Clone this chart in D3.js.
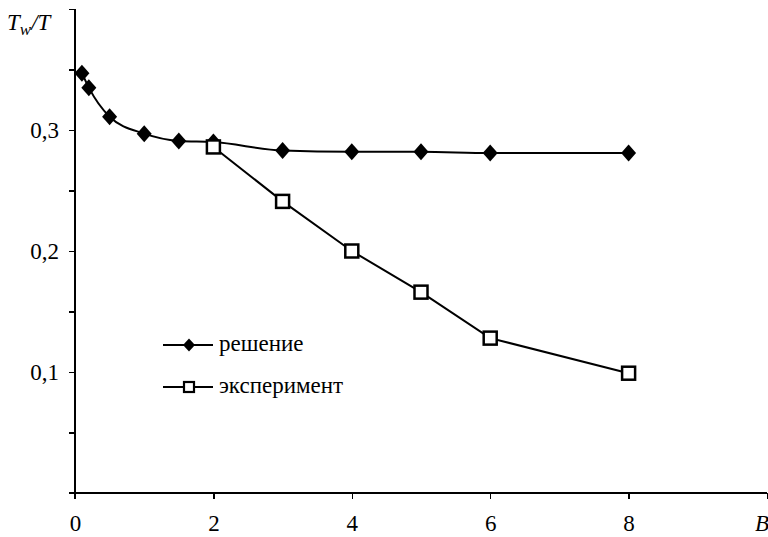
<!DOCTYPE html>
<meta charset="utf-8">
<style>
    body { margin: 0; background: #fff; }
    .curve { fill: none; stroke: #000; stroke-width: 2; }
</style>
<body>
<script src="https://d3js.org/d3.v7.min.js"></script>
<script>
// data
var solB = [0.1, 0.2, 0.5, 1, 1.5, 2, 3, 4, 5, 6, 8];
var solT = [0.347, 0.335, 0.311, 0.297, 0.291, 0.290, 0.283, 0.282, 0.282, 0.281, 0.281];
var expB = [2, 3, 4, 5, 6, 8];
var expT = [0.286, 0.241, 0.200, 0.166, 0.128, 0.099];
var xTicks = [0, 2, 4, 6, 8, 10];
var yTicks = [0, 0.05, 0.1, 0.15, 0.2, 0.25, 0.3, 0.35, 0.4];
var yLabelled = [0.1, 0.2, 0.3];
var names = ["решение", "эксперимент"];

var width = 768, height = 537;
var font = "'Liberation Serif', 'Times New Roman', serif";
var fs = "23px";

var svg = d3.select("body").append("svg")
    .attr("width", width)
    .attr("height", height);

var x = d3.scaleLinear().domain([0, 10]).range([75, 767]);
var y = d3.scaleLinear().domain([0, 0.4]).range([493, 9]);

function styleAxis(g) {
    g.selectAll("path, line").style("stroke", "#000").style("stroke-width", 1.2).style("shape-rendering", "crispEdges");
    g.selectAll("text").style("font-family", font).style("font-size", fs).style("fill", "#000");
}

// axes
svg.append("g")
    .attr("transform", "translate(0," + y(0) + ")")
    .call(d3.axisBottom(x).tickValues(xTicks).tickSize(6).tickSizeOuter(0).tickPadding(16)
        .tickFormat(function (d) { return d === 10 ? "" : d; }))
    .call(function (g) { g.select(".domain").attr("d", "M" + (x(0) - 6) + ",0H" + x(10)); })
    .call(styleAxis);

svg.append("g")
    .attr("transform", "translate(" + x(0) + ",0)")
    .call(d3.axisLeft(y).tickValues(yTicks).tickSize(6).tickSizeOuter(0).tickPadding(10)
        .tickFormat(function (d) {
            return yLabelled.some(function (v) { return Math.abs(v - d) < 1e-9; }) ? d3.format(".1f")(d).replace(".", ",") : "";
        }))
    .call(function (g) { g.select(".domain").attr("d", "M0," + (y(0) + 6) + "V" + y(0.4)); })
    .call(styleAxis);

// axis titles
var yt = svg.append("text")
    .attr("x", 7)
    .attr("y", 30)
    .style("font-family", font)
    .style("font-size", fs)
    .style("font-style", "italic");
yt.append("tspan").text("T");
yt.append("tspan").style("font-size", "17px").attr("dy", 5).text("w");
yt.append("tspan").attr("dy", -5).text("/T");

svg.append("text")
    .attr("x", x(10) - 5)
    .attr("y", 531)
    .attr("text-anchor", "middle")
    .style("font-family", font)
    .style("font-size", fs)
    .style("font-style", "italic")
    .text("B");

var line = d3.line()
    .x(function (d) { return x(d[0]); })
    .y(function (d) { return y(d[1]); });

var sol = d3.zip(solB, solT);
var exp = d3.zip(expB, expT);

svg.append("path").attr("class", "curve").attr("d", line.curve(d3.curveMonotoneX)(sol));
svg.append("path").attr("class", "curve").attr("d", line.curve(d3.curveLinear)(exp));

var diamond = function (w, h) { return "M0," + (-h) + "L" + w + ",0L0," + h + "L" + (-w) + ",0Z"; };

svg.selectAll(".sol")
    .data(sol)
    .enter().append("path")
    .attr("class", "sol")
    .attr("d", diamond(7.5, 8.5))
    .attr("transform", function (d) { return "translate(" + x(d[0]) + "," + y(d[1]) + ")"; })
    .attr("fill", "#000");

svg.selectAll(".exp")
    .data(exp)
    .enter().append("rect")
    .attr("class", "exp")
    .attr("x", function (d) { return x(d[0]) - 6.5; })
    .attr("y", function (d) { return y(d[1]) - 6.5; })
    .attr("width", 13)
    .attr("height", 13)
    .attr("fill", "#fff")
    .attr("stroke", "#000")
    .attr("stroke-width", 2.5);

// legend
var lg = svg.append("g").attr("transform", "translate(163,345)");
names.forEach(function (n, i) {
    var row = lg.append("g").attr("transform", "translate(0," + (i * 42) + ")");
    row.append("line").attr("x1", 0).attr("x2", 50).attr("y1", 0).attr("y2", 0)
        .attr("stroke", "#000").attr("stroke-width", 2);
    if (i === 0) {
        row.append("path").attr("d", diamond(6, 6.5)).attr("transform", "translate(26,0)").attr("fill", "#000");
    } else {
        row.append("rect").attr("x", 21).attr("y", -5).attr("width", 10).attr("height", 10)
            .attr("fill", "#fff").attr("stroke", "#000").attr("stroke-width", 2.2);
    }
    row.append("text").attr("x", 56).attr("y", 6)
        .style("font-family", font).style("font-size", fs).text(n);
});
</script>
</body>
